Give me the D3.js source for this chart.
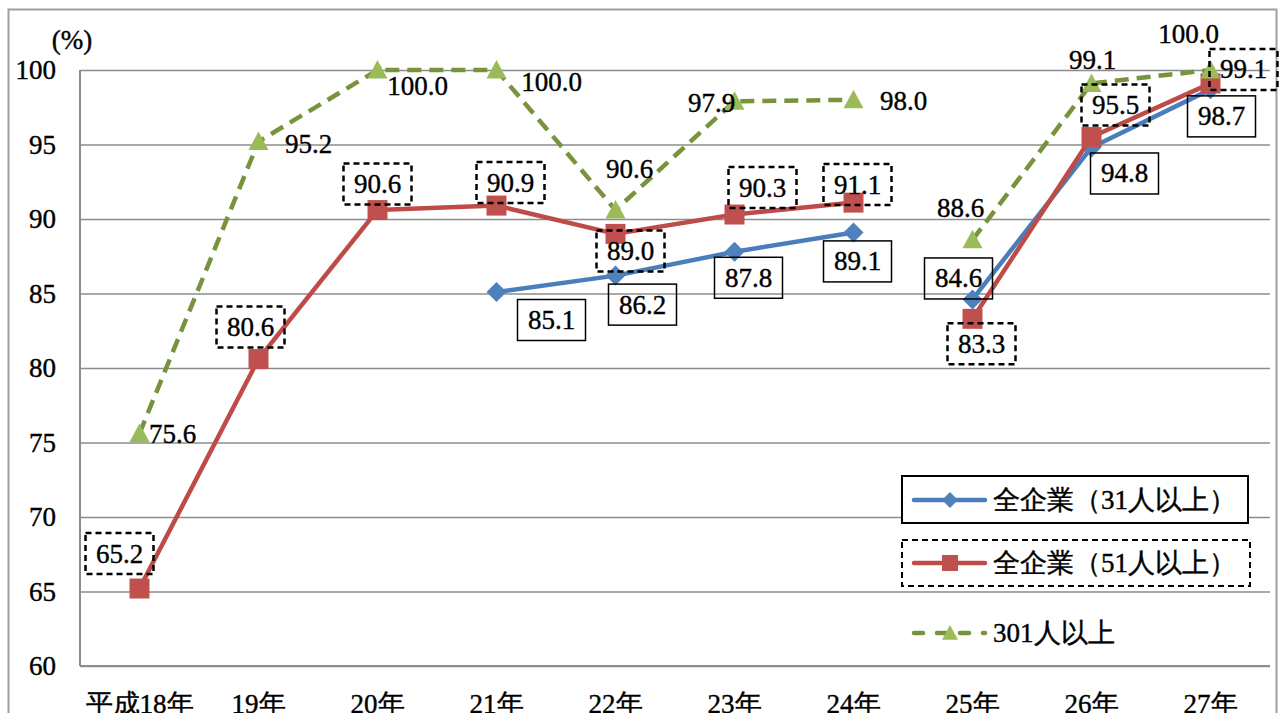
<!DOCTYPE html>
<html>
<head>
<meta charset="utf-8">
<script src="https://cdn.jsdelivr.net/npm/d3@7"></script>
<style>
  body { margin: 0; background: #fff; }
  .grid line { stroke: #8c8c8c; stroke-width: 1.5; }
  .grid path.domain { display: none; }
  .axis path.domain { display: none; }
  .axis line { display: none; }
</style>
</head>
<body>
<div id="chart"></div>
<script>
// categories and values
var years = ["平成18年", "19年", "20年", "21年", "22年", "23年", "24年", "25年", "26年", "27年"];
// survey basis changed at 25年, lines are not joined across it
var surveyGroup = [1, 1, 1, 1, 1, 1, 1, 2, 2, 2];
var all31 = [null, null, null, 85.1, 86.2, 87.8, 89.1, 84.6, 94.8, 98.7];
var all51 = [65.2, 80.6, 90.6, 90.9, 89.0, 90.3, 91.1, 83.3, 95.5, 99.1];
var over301 = [75.6, 95.2, 100.0, 100.0, 90.6, 97.9, 98.0, 88.6, 99.1, 100.0];
var yTicks = [60, 65, 70, 75, 80, 85, 90, 95, 100];
var seriesNames = ["全企業（31人以上）", "全企業（51人以上）", "301人以上"];

// label offsets from each point (hand placed like the original)
var off31 = [null, null, null, [55, 28], [27, 29], [14, 26], [4, 29], [-14, -21], [33, 26], [11, 27]];
var off51 = [[-20, -35], [-8, -32], [0, -26], [14, -23], [15, 17], [28, -27], [4, -18], [9, 25], [24, -32], [33, -14]];
var off301 = [[33, 0], [50, 2], [40, 16], [55, 12], [14, -41], [-23, 2], [50, 1], [-12, -32], [1, -23], [-22, -36]];

var width = 1282, height = 713;
var margin = {top: 70, right: 12, bottom: 47, left: 80};
var plotW = width - margin.left - margin.right,
    plotH = height - margin.top - margin.bottom;
var FONT = "'Liberation Serif'";

// serif text, a little heavier like the original Century face
function txt(sel) {
    return sel.style("font-family", FONT)
        .style("font-size", "27px")
        .attr("fill", "#000")
        .attr("stroke", "#000")
        .attr("stroke-width", 0.4);
}

var svg = d3.select("#chart").append("svg")
    .attr("width", width)
    .attr("height", height);

svg.append("rect")
    .attr("width", width).attr("height", height)
    .attr("fill", "#fff");

// outer chart frame
svg.append("rect")
    .attr("x", 8.5).attr("y", 9.5)
    .attr("width", 1268).attr("height", 730)
    .attr("fill", "none")
    .attr("stroke", "#a0a0a0")
    .attr("stroke-width", 2);

var g = svg.append("g")
    .attr("transform", "translate(" + margin.left + "," + margin.top + ")");

var x = d3.scaleBand().domain(years).range([0, plotW]);
var y = d3.scaleLinear().domain([60, 100]).range([plotH, 0]);

function cx(i) { return x(years[i]) + x.bandwidth() / 2; }

// gridlines
g.append("g")
    .attr("class", "grid")
    .call(d3.axisLeft(y).tickValues(yTicks).tickSize(-plotW).tickFormat(""));

// axis lines
g.append("line")
    .attr("x1", 0).attr("x2", 0).attr("y1", 0).attr("y2", plotH)
    .attr("stroke", "#8c8c8c").attr("stroke-width", 2);
g.append("line")
    .attr("x1", 0).attr("x2", plotW).attr("y1", plotH).attr("y2", plotH)
    .attr("stroke", "#8c8c8c").attr("stroke-width", 2);

// y axis labels
g.append("g")
    .attr("class", "axis")
    .call(d3.axisLeft(y).tickValues(yTicks).tickSize(0).tickPadding(24))
    .selectAll("text")
    .call(txt);

txt(g.append("text")
    .attr("x", -8).attr("y", -30)
    .attr("dominant-baseline", "central")
    .style("text-anchor", "middle")
    .text("(%)"));

// x axis labels
g.append("g")
    .attr("class", "axis")
    .attr("transform", "translate(0," + plotH + ")")
    .call(d3.axisBottom(x).tickSize(0).tickPadding(28))
    .selectAll("text")
    .call(txt);

var line = d3.line()
    .defined(function(d) { return d.v != null; })
    .x(function(d) { return cx(d.i); })
    .y(function(d) { return y(d.v); });

function segments(vals) {
    var groups = d3.groups(vals.map(function(v, i) { return {v: v, i: i}; }),
        function(d) { return surveyGroup[d.i]; });
    return groups.map(function(gr) { return gr[1]; });
}

var diamond = function(r) { return "M0," + (-r) + "L" + r + ",0L0," + r + "L" + (-r) + ",0Z"; };
var square = function(r) { return "M" + (-r) + "," + (-r) + "h" + 2 * r + "v" + 2 * r + "h" + (-2 * r) + "Z"; };
var triangle = function(r) { return "M0," + (-r) + "L" + r + "," + (r * 0.85) + "L" + (-r) + "," + (r * 0.85) + "Z"; };

var series = [
    {vals: all31, line: "#4a7ebb", mark: "#4f81bd", shape: diamond, r: 10, dash: null, off: off31, box: "solid"},
    {vals: all51, line: "#be4b48", mark: "#c0504d", shape: square, r: 10, dash: null, off: off51, box: "dashed"},
    {vals: over301, line: "#77933c", mark: "#9bbb59", shape: triangle, r: 10, dash: "14,8", off: off301, box: "none"}
];

series.forEach(function(s) {
    segments(s.vals).forEach(function(seg) {
        g.append("path")
            .datum(seg)
            .attr("fill", "none")
            .attr("stroke", s.line)
            .attr("stroke-width", 4.5)
            .attr("stroke-dasharray", s.dash)
            .attr("stroke-linejoin", "round")
            .attr("d", line);
    });
    g.selectAll(null)
        .data(s.vals.map(function(v, i) { return {v: v, i: i}; }).filter(function(d) { return d.v != null; }))
        .enter().append("path")
        .attr("transform", function(d) { return "translate(" + cx(d.i) + "," + y(d.v) + ")"; })
        .attr("d", s.shape(s.r))
        .attr("fill", s.mark);
});

// data labels
series.forEach(function(s) {
    s.vals.forEach(function(v, i) {
        if (v == null) return;
        var lx = cx(i) + s.off[i][0], ly = y(v) + s.off[i][1];
        if (s.box != "none") {
            g.append("rect")
                .attr("x", lx - 34).attr("y", ly - 20.5)
                .attr("width", 68).attr("height", 41)
                .attr("fill", "none")
                .attr("stroke", "#000")
                .attr("stroke-width", s.box == "dashed" ? 2.5 : 1.5)
                .attr("stroke-dasharray", s.box == "dashed" ? "6,4" : null);
        }
        txt(g.append("text")
            .attr("x", lx).attr("y", ly)
            .attr("dominant-baseline", "central")
            .style("text-anchor", "middle")
            .text(v.toFixed(1)));
    });
});

// legend
var legY = [500, 563, 633];
var leg = svg.append("g");
leg.append("rect")
    .attr("x", 902).attr("y", 476).attr("width", 346).attr("height", 47)
    .attr("fill", "#fff").attr("stroke", "#000").attr("stroke-width", 2);
leg.append("rect")
    .attr("x", 902).attr("y", 540).attr("width", 348).attr("height", 46)
    .attr("fill", "#fff").attr("stroke", "#000").attr("stroke-width", 2)
    .attr("stroke-dasharray", "6,4");

series.forEach(function(s, k) {
    leg.append("line")
        .attr("x1", 914).attr("x2", 985)
        .attr("y1", legY[k]).attr("y2", legY[k])
        .attr("stroke", s.line).attr("stroke-width", 4.5)
        .attr("stroke-linecap", "round")
        .attr("stroke-dasharray", s.dash ? "9,14" : null);
    leg.append("path")
        .attr("transform", "translate(950," + legY[k] + ")")
        .attr("d", s.shape(8))
        .attr("fill", s.mark);
    txt(leg.append("text")
        .attr("x", 993).attr("y", legY[k])
        .attr("dominant-baseline", "central")
        .text(seriesNames[k]));
});
</script>
</body>
</html>
